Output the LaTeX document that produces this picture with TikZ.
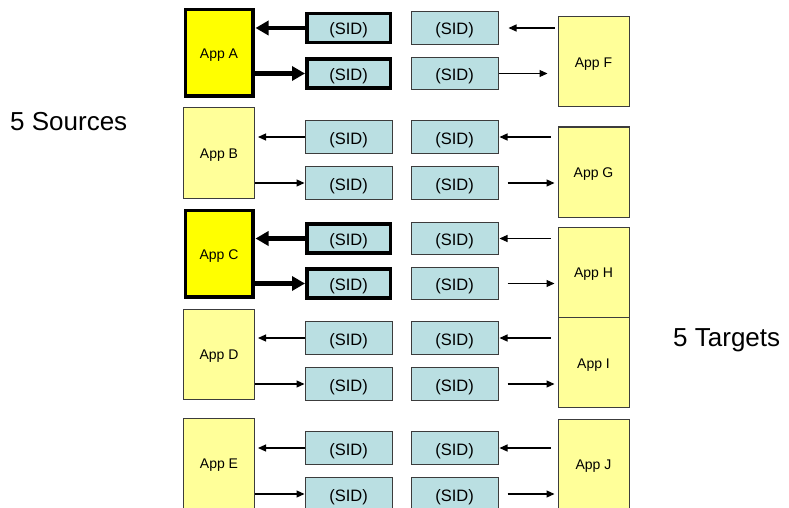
\documentclass[tikz,border=0pt]{standalone}
\usepackage{fontspec}
\setmainfont{Liberation Sans}
\usetikzlibrary{arrows.meta}
\definecolor{appbright}{RGB}{255,255,0}
\definecolor{applight}{RGB}{255,255,153}
\definecolor{sidfill}{RGB}{186,223,226}
\definecolor{edgegray}{RGB}{60,60,60}
\tikzset{
  appbox/.style={draw=edgegray, line width=1pt, fill=applight, minimum width=71pt, minimum height=90pt, inner sep=0pt, text height=11pt, text depth=0pt, font=\fontsize{14}{16}\selectfont},
  appkey/.style={appbox, draw=black, line width=3.5pt, fill=appbright, minimum width=67.5pt, minimum height=86.5pt},
  sidbox/.style={draw=edgegray, line width=1pt, fill=sidfill, minimum width=87pt, minimum height=32.5pt, inner sep=0pt, text height=14pt, text depth=0pt, font=\fontsize{16.5}{18}\selectfont},
  sidkey/.style={sidbox, draw=black, line width=3.5pt, minimum width=83.5pt, minimum height=29pt},
  thinarr/.style={line width=1.1pt, -{Triangle[length=8pt,width=7pt]}},
  thickarr/.style={line width=4.5pt, -{Triangle[length=13pt,width=14pt]}},
  bigtext/.style={font=\fontsize{26}{30}\selectfont, inner sep=0pt}
}
\begin{document}
\begin{tikzpicture}[x=1pt,y=-1pt]
\useasboundingbox (0,0) rectangle (789,508);
\clip (0,0) rectangle (789,508);
% left apps
\node[appkey]  (A) at (219,53)    {App A};
\node[appbox]  (B) at (219,153)   {App B};
\node[appkey]  (C) at (219,253.5) {App C};
\node[appbox]  (D) at (219,354)   {App D};
\node[appbox]  (E) at (219,463)   {App E};
% right apps
\node[appbox]  (F) at (593.5,62)    {App F};
\node[appbox]  (G) at (593.5,172)   {App G};
\node[appbox]  (H) at (593.5,272)   {App H};
\node[appbox]  (I) at (593.5,362.5) {App I};
\node[appbox]  (J) at (593.5,464)   {App J};
% SID boxes
\node[sidkey] (A1) at (348.5,28)    {(SID)};
\node[sidkey] (A2) at (348.5,73.5)  {(SID)};
\node[sidbox] (F1) at (454.5,28)    {(SID)};
\node[sidbox] (F2) at (454.5,73.5)  {(SID)};
\node[sidbox] (B1) at (348.5,137)   {(SID)};
\node[sidbox] (B2) at (348.5,183)   {(SID)};
\node[sidbox] (G1) at (454.5,137)   {(SID)};
\node[sidbox] (G2) at (454.5,183)   {(SID)};
\node[sidkey] (C1) at (348.5,238.5) {(SID)};
\node[sidkey] (C2) at (348.5,283.5) {(SID)};
\node[sidbox] (H1) at (454.5,238.5) {(SID)};
\node[sidbox] (H2) at (454.5,283.5) {(SID)};
\node[sidbox] (D1) at (348.5,338)   {(SID)};
\node[sidbox] (D2) at (348.5,384)   {(SID)};
\node[sidbox] (I1) at (454.5,338)   {(SID)};
\node[sidbox] (I2) at (454.5,384)   {(SID)};
\node[sidbox] (E1) at (348.5,448)   {(SID)};
\node[sidbox] (E2) at (348.5,494)   {(SID)};
\node[sidbox] (J1) at (454.5,448)   {(SID)};
\node[sidbox] (J2) at (454.5,494)   {(SID)};
% labels
\node[bigtext, anchor=west] (src) at (10,122) {5 Sources};
\node[bigtext, anchor=west] (tgt) at (673,340) {5 Targets};
% thick arrows
\draw[thickarr, shorten >=1pt] (A1.west) -- (A1.west -| A.east);
\draw[thickarr] (A2.west -| A.east) -- (A2.west);
\draw[thickarr, shorten >=1pt] (C1.west) -- (C1.west -| C.east);
\draw[thickarr] (C2.west -| C.east) -- (C2.west);
% thin left arrows
\foreach \s/\a in {B/B,D/D,E/E}{
  \draw[thinarr, shorten >=3pt] (\s1.west) -- (\s1.west -| \a.east);
  \draw[thinarr] (\s2.west -| \a.east) -- (\s2.west);
}
% right arrows row A/F
\draw[thinarr, shorten <=3pt, shorten >=10pt] (F1.east -| F.west) -- (F1.east);
\draw[thinarr, shorten >=10pt] (F2.east) -- (F2.east -| F.west);
% right arrows other rows
\foreach \s/\a in {G/G,H/H,I/I,J/J}{
  \draw[thinarr, shorten <=7pt, shorten >=1pt] (\s1.east -| \a.west) -- (\s1.east);
  \draw[thinarr, shorten <=9pt, shorten >=3pt] (\s2.east) -- (\s2.east -| \a.west);
}
\end{tikzpicture}
\end{document}
